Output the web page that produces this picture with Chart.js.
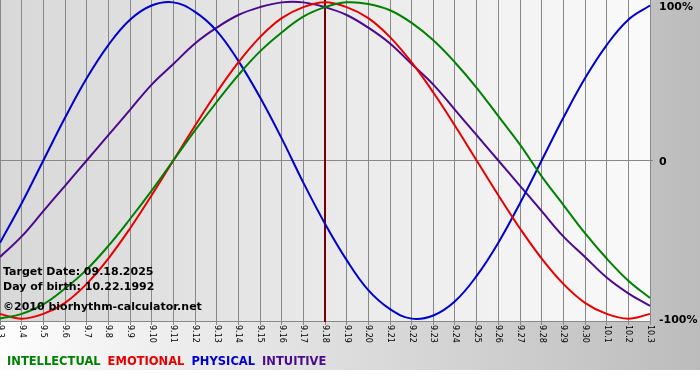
<!DOCTYPE html>
<html>
<head>
<meta charset="utf-8">
<script src="https://cdn.jsdelivr.net/npm/chart.js@4"></script>
<style>
  html, body { margin: 0; padding: 0; background: #fff; }
  canvas { display: block; }
</style>
</head>
<body>
<canvas id="bio" width="700" height="380"></canvas>
<script>
// days shown on the x axis
const days = ['9.3','9.4','9.5','9.6','9.7','9.8','9.9','9.10','9.11','9.12','9.13','9.14','9.15','9.16',
              '9.17','9.18','9.19','9.20','9.21','9.22','9.23','9.24','9.25','9.26','9.27','9.28','9.29',
              '9.30','10.1','10.2','10.3'];

// cycle values, -1 .. 1, one per day
const intellectual = [-1.00,-0.97,-0.91,-0.81,-0.69,-0.54,-0.37,-0.19,0.00,0.19,0.37,0.54,0.69,0.81,0.91,0.97,
                      1.00,0.99,0.95,0.87,0.76,0.62,0.46,0.28,0.10,-0.10,-0.28,-0.46,-0.62,-0.76,-0.87];
const emotional    = [-0.97,-1.00,-0.97,-0.90,-0.78,-0.62,-0.43,-0.22,0.00,0.22,0.43,0.62,0.78,0.90,0.97,1.00,
                      0.97,0.90,0.78,0.62,0.43,0.22,0.00,-0.22,-0.43,-0.62,-0.78,-0.90,-0.97,-1.00,-0.97];
const physical     = [-0.52,-0.27,0.00,0.27,0.52,0.73,0.89,0.98,1.00,0.94,0.82,0.63,0.40,0.14,-0.14,-0.40,
                      -0.63,-0.82,-0.94,-1.00,-0.98,-0.89,-0.73,-0.52,-0.27,0.00,0.27,0.52,0.73,0.89,0.98];
const intuitive    = [-0.61,-0.48,-0.32,-0.16,0.00,0.16,0.32,0.48,0.61,0.74,0.84,0.92,0.97,1.00,1.00,0.97,
                      0.92,0.84,0.74,0.61,0.48,0.32,0.16,0.00,-0.16,-0.32,-0.48,-0.61,-0.74,-0.84,-0.92];

const seriesNames = ['INTELLECTUAL', 'EMOTIONAL', 'PHYSICAL', 'INTUITIVE'];
const targetDay = '9.18';
const yTicks = [1, 0, -1];
const yTickLabels = ['100%', '0', '-100%'];
const notes = ['Target Date: 09.18.2025', 'Day of birth: 10.22.1992', '\u00A92010 biorhythm-calculator.net'];

const colors = ['#008000', '#e60000', '#0000cc', '#4b0a8c'];

function line(label, data, color) {
    return {
        label: label,
        data: data,
        borderColor: color,
        borderWidth: 2,
        pointRadius: 0,
        tension: 0.4,
        fill: false
    };
}

// backgrounds: page gradient + plot gradient
const backdrop = {
    id: 'backdrop',
    beforeDraw(chart) {
        const c = chart.ctx, a = chart.chartArea;
        c.save();
        let g = c.createLinearGradient(0, 0, chart.width, 0);
        g.addColorStop(0, '#fdfdfd');
        g.addColorStop(1, '#bcbcbc');
        c.fillStyle = g;
        c.fillRect(0, 0, chart.width, 370);
        g = c.createLinearGradient(a.left, 0, a.right, 0);
        g.addColorStop(0, '#d8d8d8');
        g.addColorStop(1, '#fafafa');
        c.fillStyle = g;
        c.fillRect(a.left, a.top, a.right - a.left, a.bottom - a.top);
        c.restore();
    }
};

// vertical marker on the target date
const targetLine = {
    id: 'targetLine',
    beforeDatasetsDraw(chart) {
        const c = chart.ctx, a = chart.chartArea;
        const x = chart.scales.x.getPixelForValue(days.indexOf(targetDay));
        c.save();
        c.strokeStyle = '#7a0000';
        c.lineWidth = 2;
        c.beginPath();
        c.moveTo(x, a.top);
        c.lineTo(x, a.bottom + 1);
        c.stroke();
        c.restore();
    }
};

// rotated day labels, y labels, notes and coloured legend
const overlay = {
    id: 'overlay',
    afterDraw(chart) {
        const c = chart.ctx, a = chart.chartArea, xs = chart.scales.x, ys = chart.scales.y;
        c.save();
        c.fillStyle = '#000';
        c.font = '8px "DejaVu Sans"';
        c.textAlign = 'left';
        c.textBaseline = 'middle';
        days.forEach((d, i) => {
            c.save();
            c.translate(xs.getPixelForTick(i), a.bottom + 4);
            c.rotate(Math.PI / 2);
            c.fillText(d, 0, 0);
            c.restore();
        });

        c.font = 'bold 11px "DejaVu Sans"';
        yTicks.forEach((v, i) => {
            const y = Math.min(Math.max(ys.getPixelForValue(v) + 2, 7), a.bottom + 1);
            c.fillText(yTickLabels[i], a.right + 9, y);
        });

        c.fillText(notes[0], 3, 272);
        c.fillText(notes[1], 3, 287);
        c.fillText(notes[2], 3, 307);

        c.font = 'bold 11.5px "DejaVu Sans"';
        let x = 7;
        chart.data.datasets.forEach(ds => {
            c.fillStyle = ds.borderColor;
            c.fillText(ds.label, x, 362);
            x += c.measureText(ds.label).width + 7;
        });
        c.restore();
    }
};

new Chart(document.getElementById('bio'), {
    type: 'line',
    data: {
        labels: days,
        datasets: [
            line(seriesNames[0], intellectual, colors[0]),
            line(seriesNames[1], emotional, colors[1]),
            line(seriesNames[2], physical, colors[2]),
            line(seriesNames[3], intuitive, colors[3])
        ]
    },
    options: {
        responsive: false,
        animation: false,
        layout: { padding: 0 },
        plugins: { legend: { display: false }, tooltip: { enabled: false } },
        scales: {
            x: {
                offset: false,
                grid: { color: '#888', lineWidth: 1, drawTicks: true, tickLength: 4 },
                border: { color: '#888' },
                ticks: { display: false },
                afterFit(s) { s.height = 59; s.paddingLeft = 0; s.paddingRight = 0; }
            },
            y: {
                position: 'right',
                min: -1.015,
                max: 1.015,
                afterBuildTicks(s) { s.ticks = yTicks.map(v => ({ value: v })); },
                grid: {
                    color: ctx => (ctx.tick && ctx.tick.value === 0) ? '#888' : 'rgba(0,0,0,0)',
                    tickLength: 3
                },
                border: { color: '#888' },
                ticks: { display: false },
                afterFit(s) { s.width = 50; s.paddingTop = 0; s.paddingBottom = 0; }
            }
        }
    },
    plugins: [backdrop, targetLine, overlay]
});
</script>
</body>
</html>
